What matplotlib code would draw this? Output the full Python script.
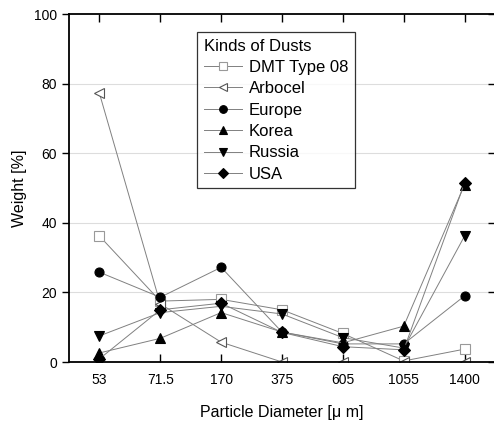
import matplotlib
matplotlib.use("Agg")
import matplotlib.pyplot as plt

plt.rcParams['font.family'] = ['Liberation Sans', 'DejaVu Sans']

categories = ["53", "71.5", "170", "375", "605", "1055", "1400"]
dmt = [36.2, 17.5, 18.0, 15.0, 8.2, 0.3, 3.7]
arbocel = [77.2, 16.7, 5.7, 0.0, 0.0, 0.0, 0.0]
europe = [25.8, 18.6, 27.2, 8.6, 5.2, 5.2, 19.0]
korea = [2.6, 6.8, 14.2, 8.6, 5.5, 10.3, 51.0]
russia = [7.5, 14.2, 16.0, 13.8, 7.0, 4.0, 36.2]
usa = [0.9, 15.0, 16.9, 8.5, 4.4, 3.5, 51.4]

series = [
    ("DMT Type 08", dmt, 's', 'white', '#999999', 7),
    ("Arbocel", arbocel, '<', 'white', '#555555', 7),
    ("Europe", europe, 'o', 'black', 'black', 6.5),
    ("Korea", korea, '^', 'black', 'black', 7),
    ("Russia", russia, 'v', 'black', 'black', 7.5),
    ("USA", usa, 'D', 'black', 'black', 6),
]

fig = plt.figure(figsize=(4.94, 4.23), dpi=100)
ax = fig.add_axes([69/494, 1-362/423, (495-69)/494, (362-14)/423])
x = list(range(len(categories)))
for name, vals, m, fc, ec, ms in series:
    ax.plot(x, vals, color='#808080', lw=0.7, marker=m, markersize=ms,
            markerfacecolor=fc, markeredgecolor=ec, markeredgewidth=0.8,
            label=name)

ax.set_xlim(-0.5, 6.5)
ax.set_ylim(0, 100)
ax.set_xticks(x)
ax.set_xticklabels(categories)
ax.set_yticks([0, 20, 40, 60, 80, 100])
for yv in [20, 40, 60, 80]:
    ax.axhline(yv, color='#dddddd', lw=0.8, zorder=0)
ax.tick_params(axis='x', direction='in', top=True, length=6, width=1, labelsize=10, pad=8)
ax.tick_params(axis='y', direction='out', length=5, width=1, labelsize=10)
sec = ax.secondary_yaxis('right')
sec.set_yticks([0, 20, 40, 60, 80, 100])
sec.tick_params(axis='y', direction='in', length=5, width=1, labelright=False)
sec.spines['right'].set_linewidth(1.3)
for s in ax.spines.values():
    s.set_linewidth(1.3)
ax.set_xlabel("Particle Diameter [\u03bc m]", fontsize=11.5, labelpad=13)
ax.set_ylabel("Weight [%]", fontsize=11.5, labelpad=5)

leg = ax.legend(title="Kinds of Dusts", loc='upper left',
                bbox_to_anchor=((197-69)/426, 1-(32-14)/348),
                fontsize=12, title_fontsize=12, frameon=True, fancybox=False,
                edgecolor='black', handlelength=2.3, handletextpad=0.4,
                labelspacing=0.38, borderpad=0.4, borderaxespad=0,
                markerscale=0.85)
leg._legend_box.align = "left"
leg.get_frame().set_linewidth(0.9)

fig.savefig("out.png", dpi=100)
